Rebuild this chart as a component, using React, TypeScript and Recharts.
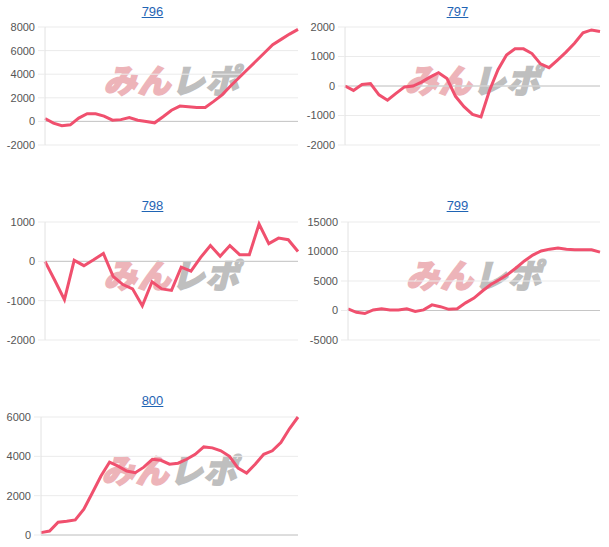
import React from "react";
import { LineChart, Line, XAxis, YAxis, CartesianGrid, ReferenceLine } from "recharts";

const titles = ["796", "797", "798", "799", "800"];

const s796 = [250, -150, -360, -290, 280, 650, 650, 450, 100, 150, 330, 100, 0, -120, 400, 950, 1300, 1250, 1180, 1180, 1700, 2250, 3000, 3700, 4400, 5100, 5800, 6500, 6950, 7400, 7800];
const s797 = [0, -150, 50, 80, -300, -480, -250, -30, 0, 130, 300, 450, 250, -350, -700, -960, -1050, -150, 550, 1050, 1260, 1260, 1100, 750, 620, 880, 1150, 1450, 1800, 1900, 1850];
const s798 = [0, -480, -975, 25, -110, 40, 200, -380, -590, -700, -1130, -520, -700, -740, -150, -250, 100, 400, 130, 400, 170, 170, 950, 450, 590, 550, 250];
const s799 = [280, -300, -520, 100, 300, 100, 100, 300, -150, 100, 950, 650, 200, 300, 1300, 2100, 3300, 4400, 5200, 6100, 7200, 8400, 9400, 10100, 10400, 10600, 10400, 10300, 10300, 10300, 9900];
const s800 = [120, 200, 650, 700, 770, 1310, 2150, 3000, 3700, 3500, 3250, 3170, 3450, 3850, 3800, 3600, 3650, 3850, 4100, 4480, 4430, 4280, 4000, 3400, 3150, 3600, 4100, 4280, 4700, 5400, 6000];

const ticks796 = [-2000, 0, 2000, 4000, 6000, 8000];
const ticks797 = [-2000, -1000, 0, 1000, 2000];
const ticks798 = [-2000, -1000, 0, 1000];
const ticks799 = [-5000, 0, 5000, 10000, 15000];
const ticks800 = [0, 2000, 4000, 6000];

const LINE = "#f0506e";
const FONT = "'Liberation Sans', Arial, sans-serif";

type PanelProps = {
  title: string;
  values: number[];
  ticks: number[];
  left: number;
  top: number;
  yWidth: number;
  rightMargin: number;
  titleTop: number;
};

function Panel({ title, values, ticks, left, top, yWidth, rightMargin, titleTop }: PanelProps) {
  const data = values.map((v, i) => ({ day: i, value: v }));
  const W = 305;
  const H = 160;
  const plotL = yWidth;
  const plotR = W - rightMargin;
  const cx = (plotL + plotR) / 2;
  return (
    <div style={{ position: "absolute", left, top, width: W, height: H }}>
      <div
        style={{
          position: "absolute",
          left: 0,
          width: W,
          top: titleTop,
          textAlign: "center",
          fontFamily: FONT,
          fontSize: 13,
          color: "#1f64b4",
          textDecoration: "underline",
          lineHeight: "15px",
        }}
      >
        {title}
      </div>
      <div
        style={{
          position: "absolute",
          left: cx - 80,
          top: 59,
          width: 160,
          textAlign: "center",
          fontFamily: "'Noto Sans CJK JP', sans-serif",
          fontWeight: 900,
          fontStyle: "italic",
          fontSize: 33,
          lineHeight: "40px",
          letterSpacing: 1,
          whiteSpace: "nowrap",
          opacity: 0.85,
        }}
      >
        <span style={{ color: "#eba7ad", WebkitTextStroke: "1.5px #eba7ad" }}>みん</span>
        <span style={{ color: "#b4b4b4", WebkitTextStroke: "1.5px #b4b4b4" }}>レポ</span>
      </div>
      <div style={{ position: "absolute", left: 0, top: 0 }}>
        <LineChart width={W} height={H} data={data} margin={{ top: 27, right: rightMargin, bottom: 15, left: 0 }}>
          <CartesianGrid vertical={false} stroke="#ebebeb" />
          <XAxis dataKey="day" hide height={0} />
          <YAxis
            width={yWidth}
            domain={[ticks[0], ticks[ticks.length - 1]]}
            ticks={ticks}
            interval={0}
            axisLine={{ stroke: "#e2e2e2" }}
            tickLine={{ stroke: "#ebebeb" }}
            tickSize={7}
            tickMargin={3}
            tick={{ fill: "#555", fontSize: 11, fontFamily: FONT }}
          />
          <ReferenceLine y={0} stroke="#c6c6c6" />
          <Line
            type="linear"
            dataKey="value"
            stroke={LINE}
            strokeWidth={3}
            dot={false}
            isAnimationActive={false}
          />
        </LineChart>
      </div>
    </div>
  );
}

export default function App() {
  return (
    <div style={{ position: "absolute", left: 0, top: 0, width: 609, height: 547, background: "#fff", overflow: "hidden" }}>
      <Panel title={titles[0]} values={s796} ticks={ticks796} left={0} top={0} yWidth={45} rightMargin={7} titleTop={4} />
      <Panel title={titles[1]} values={s797} ticks={ticks797} left={305} top={0} yWidth={40} rightMargin={10} titleTop={4} />
      <Panel title={titles[2]} values={s798} ticks={ticks798} left={0} top={195} yWidth={45} rightMargin={7} titleTop={3} />
      <Panel title={titles[3]} values={s799} ticks={ticks799} left={305} top={195} yWidth={43} rightMargin={10} titleTop={3} />
      <Panel title={titles[4]} values={s800} ticks={ticks800} left={0} top={390} yWidth={41} rightMargin={7} titleTop={3} />
    </div>
  );
}
